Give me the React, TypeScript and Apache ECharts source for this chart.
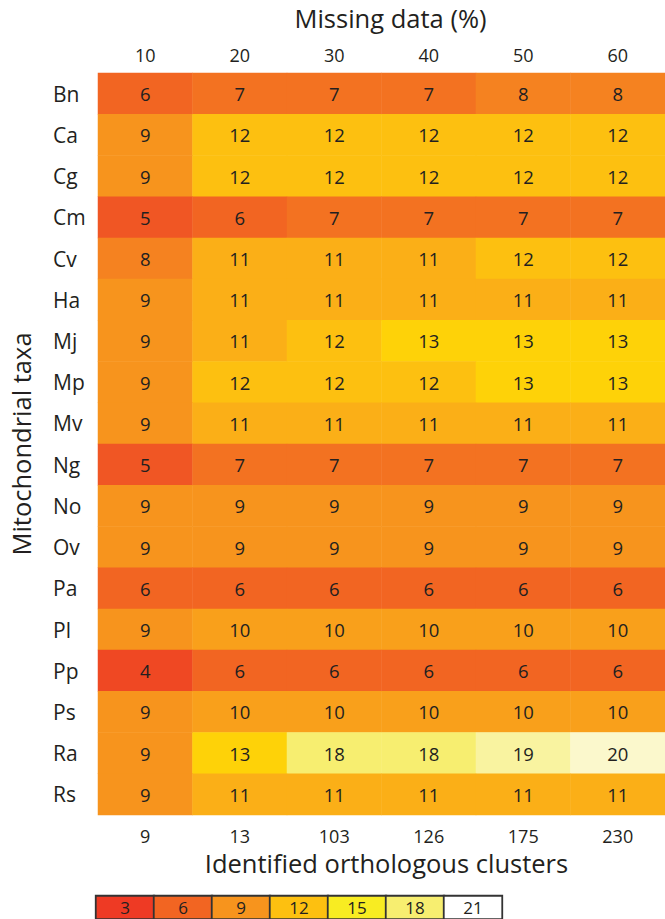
import React, { useEffect, useRef } from "react";
import * as echarts from "echarts";

const missingPct = ["10", "20", "30", "40", "50", "60"];
const clusters = ["9", "13", "103", "126", "175", "230"];
const taxa = ["Bn", "Ca", "Cg", "Cm", "Cv", "Ha", "Mj", "Mp", "Mv", "Ng", "No", "Ov", "Pa", "Pl", "Pp", "Ps", "Ra", "Rs"];
const counts: number[][] = [
  [6, 7, 7, 7, 8, 8],
  [9, 12, 12, 12, 12, 12],
  [9, 12, 12, 12, 12, 12],
  [5, 6, 7, 7, 7, 7],
  [8, 11, 11, 11, 12, 12],
  [9, 11, 11, 11, 11, 11],
  [9, 11, 12, 13, 13, 13],
  [9, 12, 12, 12, 13, 13],
  [9, 11, 11, 11, 11, 11],
  [5, 7, 7, 7, 7, 7],
  [9, 9, 9, 9, 9, 9],
  [9, 9, 9, 9, 9, 9],
  [6, 6, 6, 6, 6, 6],
  [9, 10, 10, 10, 10, 10],
  [4, 6, 6, 6, 6, 6],
  [9, 10, 10, 10, 10, 10],
  [9, 13, 18, 18, 19, 20],
  [9, 11, 11, 11, 11, 11],
];
const legendValues = [3, 6, 9, 12, 15, 18, 21];
const scaleValues = [3, 4, 5, 6, 7, 8, 9, 10, 11, 12, 13, 14, 15, 16, 17, 18, 19, 20, 21];
const scaleColors = [
  "#EE3A24", "#EF4823", "#F05624", "#F26522", "#F37221", "#F58220", "#F7941D",
  "#F9A01B", "#FBAF17", "#FDC010", "#FED208", "#FBDD12", "#F8EC22", "#F7EC40",
  "#F6EC5A", "#F7EE70", "#F9F3A0", "#FBF8CC", "#FFFFFF",
];

const FONT = "Open Sans";

export default function App() {
  const ref = useRef<HTMLDivElement>(null);
  useEffect(() => {
    if (!ref.current) return;
    const chart = echarts.init(ref.current, null, { renderer: "svg" });
    const heatData: number[][] = [];
    taxa.forEach((_, r) => counts[r].forEach((v, c) => heatData.push([c, r, v])));
    const legendData = legendValues.map((v, i) => [i, 0, v]);
    chart.setOption({
      animation: false,
      backgroundColor: "#ffffff",
      grid: [
        { left: 97, right: 0, top: 72, height: 743 },
        { left: 96, top: 896, width: 406, height: 30 },
      ],
      xAxis: [
        {
          type: "category", gridIndex: 0, position: "top", data: missingPct,
          axisLine: { show: false }, axisTick: { show: false }, splitLine: { show: false },
          axisLabel: { fontFamily: FONT, fontSize: 18, color: "#231F20", margin: 9 },
          name: "Missing data (%)", nameLocation: "middle", nameGap: 42,
          nameTextStyle: { fontFamily: FONT, fontSize: 25.5, color: "#231F20", padding: [0, 0, 0, 18] },
        },
        {
          type: "category", gridIndex: 0, position: "bottom", data: clusters,
          axisLine: { show: false }, axisTick: { show: false }, splitLine: { show: false },
          axisLabel: { fontFamily: FONT, fontSize: 18, color: "#231F20", margin: 12 },
          name: "Identified orthologous clusters", nameLocation: "middle", nameGap: 30,
          nameTextStyle: { fontFamily: FONT, fontSize: 25.5, color: "#231F20", padding: [0, 0, 0, 10] },
        },
        {
          type: "category", gridIndex: 1, data: legendValues.map(String), show: false,
        },
      ],
      yAxis: [
        {
          type: "category", gridIndex: 0, data: taxa, inverse: true,
          axisLine: { show: false }, axisTick: { show: false }, splitLine: { show: false },
          axisLabel: { fontFamily: FONT, fontSize: 21, color: "#231F20", align: "left", margin: 45 },
          name: "Mitochondrial taxa", nameLocation: "middle", nameGap: 64, nameRotate: 90,
          nameTextStyle: { fontFamily: FONT, fontSize: 25.5, color: "#231F20" },
        },
        { type: "category", gridIndex: 1, data: ["legend"], show: false },
      ],
      visualMap: {
        type: "piecewise", show: false, seriesIndex: [0, 1], dimension: 2,
        pieces: scaleValues.map((v, i) => ({ value: v, color: scaleColors[i] })),
      },
      series: [
        {
          type: "heatmap", xAxisIndex: 0, yAxisIndex: 0, data: heatData,
          label: { show: true, fontFamily: FONT, fontSize: 18.5, color: "#231F20" },
          itemStyle: { borderWidth: 0 },
          emphasis: { disabled: true },
        },
        {
          type: "heatmap", xAxisIndex: 2, yAxisIndex: 1, data: legendData,
          label: { show: true, fontFamily: FONT, fontSize: 17, color: "#231F20" },
          itemStyle: { borderWidth: 1.8, borderColor: "#333333" },
          emphasis: { disabled: true },
        },
      ],
    });
    return () => chart.dispose();
  }, []);
  return (
    <div
      ref={ref}
      style={{ position: "absolute", left: 0, top: 0, width: 665, height: 919 }}
    />
  );
}
